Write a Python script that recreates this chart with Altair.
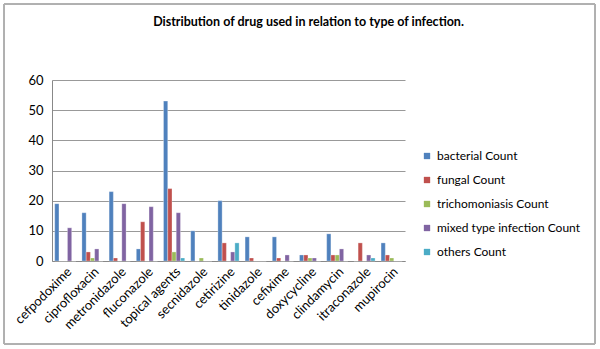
import altair as alt
import pandas as pd

drugs = ["cefpodoxime", "ciprofloxacin", "metronidazole", "fluconazole", "topical agents",
         "secnidazole", "cetirizine", "tinidazole", "cefixime", "doxycycline",
         "clindamycin", "itraconazole", "mupirocin"]
series = ["bacterial Count", "fungal Count", "trichomoniasis Count",
          "mixed type infection Count", "others Count"]
bacterial = [19, 16, 23, 4, 53, 10, 20, 8, 8, 2, 9, 0, 6]
fungal = [0, 3, 1, 13, 24, 0, 6, 1, 1, 2, 2, 6, 2]
trichomoniasis = [0, 1, 0, 0, 3, 1, 0, 0, 0, 1, 2, 0, 1]
mixed = [11, 4, 19, 18, 16, 0, 3, 0, 2, 1, 4, 2, 0]
others = [0, 0, 0, 0, 1, 0, 6, 0, 0, 0, 0, 1, 0]
colors = ["#4F81BD", "#C0504D", "#9BBB59", "#8064A2", "#4BACC6"]

rows = []
for s, vals in zip(series, [bacterial, fungal, trichomoniasis, mixed, others]):
    for d, v in zip(drugs, vals):
        rows.append({"drug": d, "series": s, "value": v})
df = pd.DataFrame(rows)

font = "Lato"

bars = alt.Chart(df).mark_bar(stroke="white", strokeWidth=0.3).encode(
    x=alt.X("drug:N", sort=drugs, title=None,
            scale=alt.Scale(paddingInner=0.22, paddingOuter=0.1),
            axis=alt.Axis(labelAngle=-45, labelAlign="right", labelBaseline="top",
                          labelFontSize=13, labelColor="#000", labelFont=font,
                          domainColor="#888", ticks=False, labelPadding=4)),
    xOffset=alt.XOffset("series:N", sort=series),
    y=alt.Y("value:Q", title=None,
            scale=alt.Scale(domain=[0, 60]),
            axis=alt.Axis(values=[0, 10, 20, 30, 40, 50, 60], labelFontSize=13,
                          labelColor="#000", labelFont=font, domain=True, domainColor="#888",
                          ticks=False, gridColor="#999", gridWidth=1, labelPadding=9)),
    color=alt.Color("series:N", sort=series,
                    scale=alt.Scale(domain=series, range=colors),
                    legend=alt.Legend(title=None, symbolType="square", symbolSize=40,
                                      labelFontSize=12, labelFont=font, labelColor="#000",
                                      rowPadding=12, orient="none", legendX=369, legendY=70,
                                      padding=0, symbolStrokeWidth=0)),
)

frame = alt.Chart(df).mark_rect(fill=None, stroke="#b0b0b0", strokeWidth=1).encode(
    x=alt.value(-48), x2=alt.value(543), y=alt.value(-76), y2=alt.value(264)
)

chart = alt.layer(frame, bars).properties(
    width=353, height=181,
    title=alt.Title("Distribution of drug used in relation to type of infection.",
                    fontSize=12.5, font=font, fontWeight="bold", anchor="middle",
                    offset=-25, color="#000", dx=80),
).configure_view(stroke=None).properties(
    autosize=alt.AutoSizeParams(type="none"),
    padding={"left": 52, "top": 80, "right": 195, "bottom": 88},
)

chart.save("out.html", embed_options={"renderer": "svg", "actions": False})
